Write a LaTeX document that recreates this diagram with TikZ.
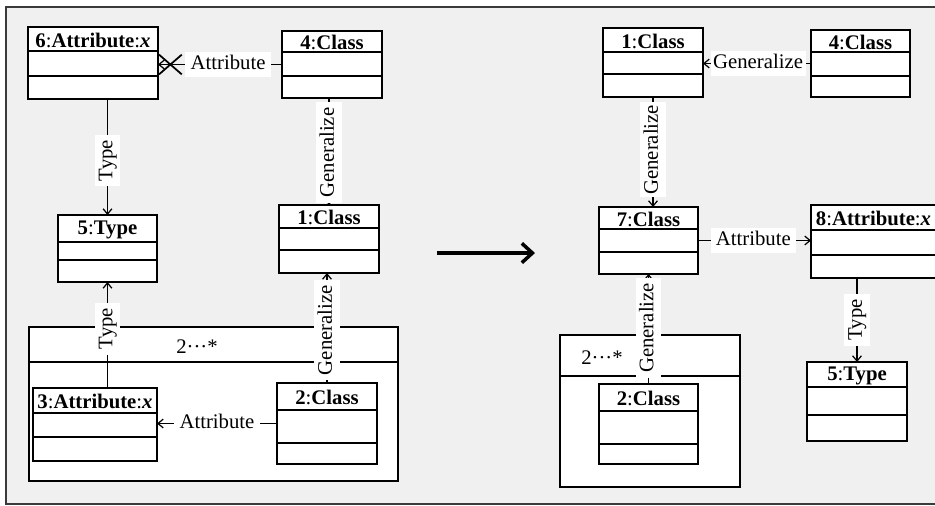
\documentclass[tikz,border=0pt]{standalone}
\usepackage{fontspec}
\setmainfont{Liberation Serif}
\usetikzlibrary{calc,arrows.meta,shapes.misc}
\definecolor{panelgray}{HTML}{F0F0F0}
\definecolor{framegray}{HTML}{3A3A3A}

\tikzset{
  classbox/.style={draw, fill=white, line width=0.7pt, inner sep=0pt, outer sep=0pt},
  classtitle/.style={font=\fontsize{11.8}{13}\selectfont, inner sep=0pt},
  edgelabel/.style={fill=white, font=\fontsize{11.8}{13}\selectfont, inner xsep=3pt, inner ysep=2pt, text height=8pt, text depth=2.5pt},
  vlabel/.style={edgelabel, rotate=90},
  link/.style={line width=0.7pt, -{Straight Barb[length=3pt,width=5pt]}},
  crossmark/.style={cross out, draw, line width=1pt, minimum width=0.42cm, minimum height=0.36cm, inner sep=0pt},
  bigarrow/.style={line width=2pt, -{Straight Barb[length=6pt,width=11pt]}},
}

% class box: name, top left, bottom right, compartment lines, title
\def\umlclass(#1)(#2,#3)(#4,#5)(#6,#7)#8{%
  \node[classbox, minimum width={(#4-#2)*0.02cm}, minimum height={(#5-#3)*0.02cm}] (#1) at ({(#2+#4)/2},{(#3+#5)/2}) {};
  \draw[line width=0.7pt] (#2,#6) -- (#4,#6) (#2,#7) -- (#4,#7);
  \node[classtitle] (#1-title) at ({(#2+#4)/2},{(#3+#6)/2+1}) {#8};
}
% multiplicity frame: name, top left, bottom right, header line
\def\multbox(#1)(#2,#3)(#4,#5)#6{%
  \node[classbox, minimum width={(#4-#2)*0.02cm}, minimum height={(#5-#3)*0.02cm}] (#1) at ({(#2+#4)/2},{(#3+#5)/2}) {};
  \draw[line width=0.7pt] (#2,#6) -- (#4,#6);
}

\begin{document}
\begin{tikzpicture}[x=0.02cm, y=-0.02cm]
	%%%%% START %%%%%
	\useasboundingbox (0,0) rectangle (935,505);
	\fill[panelgray] (6,7) rectangle (940,504);
	\draw[framegray, line width=0.6pt] (940,7) -- (6,7) -- (6,504) -- (940,504);
	
	%% left side
	\multbox(mL)(29,327)(398,481){362}
	\node[classtitle] (mL-text) at (197,347) {2···*};
	
	\umlclass(c6)(28,27)(158,99)(51,76){\textbf{6}:\textbf{Attribute}:\textbf{\textit{x}}}
	\umlclass(c4)(282,31)(382,98)(52,76){\textbf{4}:\textbf{Class}}
	\umlclass(c5)(58,215)(157,282)(242,260){\textbf{5}:\textbf{Type}}
	\umlclass(c1)(279,205)(379,273)(228,250){\textbf{1}:\textbf{Class}}
	\umlclass(c3)(33,388)(157,461)(413,437){\textbf{3}:\textbf{Attribute}:\textbf{\textit{x}}}
	\umlclass(c2)(277,383)(377,464)(410,443){\textbf{2}:\textbf{Class}}
	
	\draw[link] (c4.west) -- (c4.west -| c6.east) node[edgelabel, pos=0.435] (lab-a1) {Attribute} node[crossmark, pos=0.9] (x1) {};
	\draw[link] (c6.south -| c5.north) -- (c5.north) node[vlabel, pos=0.53] (lab-t1) {Type};
	\draw[link] (c4.south -| c1.north) -- (c1.north) node[vlabel, pos=0.51] (lab-g1) {Generalize};
	\draw[link] (c3.north -| c5.south) -- (c5.south) node[vlabel, pos=0.56] (lab-t2) {Type};
	\draw[link] (c2.north) -- (c2.north |- c1.south) node[vlabel, pos=0.48] (lab-g2) {Generalize};
	\draw[link] (c2.west) -- (c2.west -| c3.east) node[edgelabel, pos=0.5] (lab-a2) {Attribute};
	
	%% rewrite arrow
	\coordinate (go-from) at (437,253);
	\coordinate (go-to) at (535,253);
	\draw[bigarrow] (go-from) -- (go-to);
	
	%% right side
	\multbox(mR)(560,335)(740,487){376}
	\node[classtitle] (mR-text) at (602,358) {2···*};
	
	\umlclass(r1)(603,28)(703,97)(52,74){\textbf{1}:\textbf{Class}}
	\umlclass(r4)(811,30)(910,97)(52,76){\textbf{4}:\textbf{Class}}
	\umlclass(r7)(599,207)(698,274)(229,252){\textbf{7}:\textbf{Class}}
	\umlclass(r8)(811,205)(936,278)(230,255){\textbf{8}:\textbf{Attribute}:\textbf{\textit{x}}}
	\umlclass(r5)(807,362)(907,441)(387,415){\textbf{5}:\textbf{Type}}
	\umlclass(r2)(599,384)(698,464)(411,444){\textbf{2}:\textbf{Class}}
	
	\draw[link] (r4.west) -- (r4.west -| r1.east) node[edgelabel, inner xsep=1.5pt, pos=0.49] (lab-g3) {Generalize};
	\draw[link] (r1.south) -- (r1.south |- r7.north) node[vlabel, inner xsep=1.5pt, pos=0.48] (lab-g4) {Generalize};
	\draw[link] (r2.north) -- (r2.north |- r7.south) node[vlabel, pos=0.51] (lab-g5) {Generalize};
	\draw[link] (r7.east) -- (r7.east -| r8.west) node[edgelabel, pos=0.49] (lab-a3) {Attribute};
	\draw[link] (r8.south -| r5.north) -- (r5.north) node[vlabel, pos=0.5] (lab-t3) {Type};
	%%%%% END %%%%%
\end{tikzpicture}
\end{document}
